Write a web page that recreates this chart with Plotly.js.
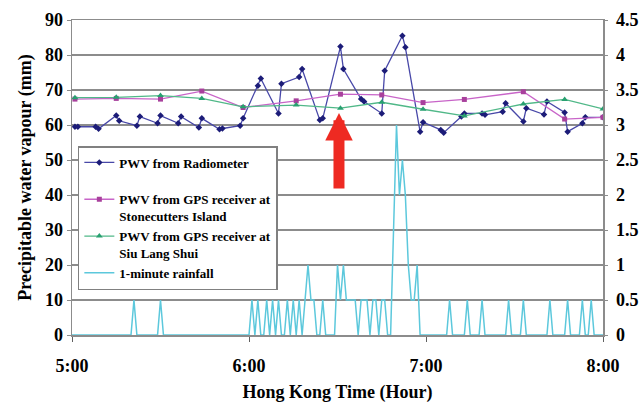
<!DOCTYPE html>
<html>
<head>
<meta charset="utf-8">
<script src="https://cdn.plot.ly/plotly-3.0.1.min.js"></script>
<style>html,body{margin:0;padding:0;background:#fff;}#chart{width:643px;height:405px;}</style>
</head>
<body>
<div id="chart"></div>
<script>
// Time in minutes after 05:00
const radTime = [1,2,8,9,15,16,22,23,29,30,36,37,43,44,50,51,57,58,63,64,70,71,77,78,84,85,91,92,98,99,105,106,112,113,118,119,125,126,132,133,139,140,146,147,153,154,160,161,167,168,173,174,180];
const radPWV  = [59.5,59.5,59.5,58.9,62.7,61.2,59.8,62.4,60.5,62.7,60.5,62.4,59.3,61.9,58.8,59.0,59.8,61.9,71.2,73.3,63.3,71.8,73.7,76.0,61.4,61.9,82.4,76.0,67.4,66.7,63.3,75.5,85.5,82.2,58.1,60.8,58.6,57.8,62.4,63.3,63.3,62.9,63.8,66.2,61.0,64.8,63.0,66.7,63.6,58.1,60.5,62.2,62.2];

const gpsTime = [1,15,30,44,58,76,91,105,119,133,153,167,180];
const stonecuttersPWV = [67.4,67.6,67.4,69.7,65.0,66.9,68.8,68.6,66.4,67.3,69.5,61.7,62.2];
const siuLangShuiPWV  = [67.8,67.9,68.4,67.6,65.2,65.7,64.8,66.5,64.5,62.6,66.0,67.3,64.6];

// 1-minute rainfall (mm), minute 0 .. 180
const rainfall = [
0,0,0,0,0,0,0,0,0,0, 0,0,0,0,0,0,0,0,0,0,      // 0-19
0,0.5,0,0,0,0,0,0,0,0, 0.5,0,0,0,0,0,0,0,0,0,  // 20-39
0,0,0,0,0,0,0,0,0,0, 0,0,0,0,0,0,0,0,0,0,      // 40-59
0,0.5,0,0.5,0,0,0.5,0,0.5,0, 0.5,0,0,0.5,0,0.5,0,0.5,0,0.5, // 60-79
1,0.5,0.5,0,0,0.5,0,0,0,0, 1,0.5,1,0.5,0.5,0.5,0.5,0,0.5,0.5, // 80-99
0.5,0,0.5,0.5,0,0.5,0.5,0,0,1.5, 3,2,2.5,2,1,0.5,0.5,1,0,0, // 100-119
0,0,0,0,0,0,0,0,0.5,0, 0,0,0,0,0.5,0,0,0,0,0.5, // 120-139
0,0,0,0,0,0,0,0,0.5,0, 0,0,0,0.5,0,0,0,0,0,0,  // 140-159
0,0,0.5,0,0,0,0,0,0.5,0, 0,0,0,0.5,0,0,0.5,0,0,0, // 160-179
0 // 180
];
const rainTime = rainfall.map((_, i) => i);

const xTickVals = [0,60,120,180];
const xTickText = ['5:00','6:00','7:00','8:00'];

const serif = 'Liberation Serif, Times New Roman, serif';
const gridGrey = '#8c8c8c';

const traces = [
  {x: rainTime, y: rainfall, yaxis: 'y2', type: 'scatter', mode: 'lines', name: '1-minute rainfall',
   line: {color: '#5cc8dc', width: 1.5}, legendrank: 4},
  {x: radTime, y: radPWV, type: 'scatter', mode: 'lines+markers', name: 'PWV from Radiometer<br> ',
   line: {color: '#4848a8', width: 1.3}, marker: {symbol: 'diamond', size: 5, color: '#1c1c78'}, legendrank: 1},
  {x: gpsTime, y: stonecuttersPWV, type: 'scatter', mode: 'lines+markers', name: 'PWV from GPS receiver at<br>Stonecutters Island',
   line: {color: '#c864c8', width: 1.3}, marker: {symbol: 'square', size: 5, color: '#a8409c'}, legendrank: 2},
  {x: gpsTime, y: siuLangShuiPWV, type: 'scatter', mode: 'lines+markers', name: 'PWV from GPS receiver at<br>Siu Lang Shui',
   line: {color: '#50b888', width: 1.3}, marker: {symbol: 'triangle-up', size: 6, color: '#28a070'}, legendrank: 3}
];

const layout = {
  width: 643, height: 405,
  margin: {l: 72, r: 40, t: 20, b: 70},
  paper_bgcolor: '#fff', plot_bgcolor: '#fff',
  font: {family: serif, color: '#000'},
  showlegend: true,
  legend: {
    x: 0.011, y: 0.6, xanchor: 'left', yanchor: 'top',
    bgcolor: '#fff', bordercolor: '#808080', borderwidth: 1.5,
    font: {family: serif, size: 13, weight: 'bold', color: '#000'},
    valign: 'top', itemwidth: 30, tracegroupgap: 0
  },
  xaxis: {
    range: [0, 180], tickvals: xTickVals, ticktext: xTickText,
    showgrid: false, zeroline: false, showline: true, mirror: true,
    linecolor: gridGrey, linewidth: 1.5,
    ticks: 'outside', ticklen: 5, tickcolor: '#606060', tickwidth: 1,
    ticklabelstandoff: 9,
    tickfont: {family: serif, size: 18, weight: 'bold'},
    title: {text: 'Hong Kong Time (Hour)', font: {family: serif, size: 18, weight: 'bold'}, standoff: 10}
  },
  yaxis: {
    range: [0, 90], dtick: 10, tick0: 0,
    showgrid: true, gridcolor: gridGrey, gridwidth: 1.5, zeroline: false,
    showline: true, linecolor: gridGrey, linewidth: 1.5,
    ticks: 'outside', ticklen: 4, tickcolor: gridGrey,
    tickfont: {family: serif, size: 18, weight: 'bold'},
    title: {text: 'Precipitable water vapour (mm)', font: {family: serif, size: 18, weight: 'bold'}, standoff: 8}
  },
  yaxis2: {
    range: [0, 4.5], dtick: 0.5, tick0: 0, overlaying: 'y', side: 'right',
    showgrid: false, zeroline: false, showline: true, linecolor: gridGrey, linewidth: 1.5,
    ticks: 'outside', ticklen: 3, tickcolor: gridGrey, ticklabelstandoff: 5,
    tickfont: {family: serif, size: 18, weight: 'bold'}
  },
  annotations: [{
    x: 90.5, y: 63.4, xref: 'x', yref: 'y',
    ax: 90.5, ay: 41.4, axref: 'x', ayref: 'y',
    text: '', showarrow: true, arrowhead: 2, arrowsize: 0.5, arrowwidth: 11,
    arrowcolor: '#ee2a22', standoff: 0
  }]
};

Plotly.newPlot('chart', traces, layout, {displayModeBar: false, staticPlot: true});
</script>
</body>
</html>
